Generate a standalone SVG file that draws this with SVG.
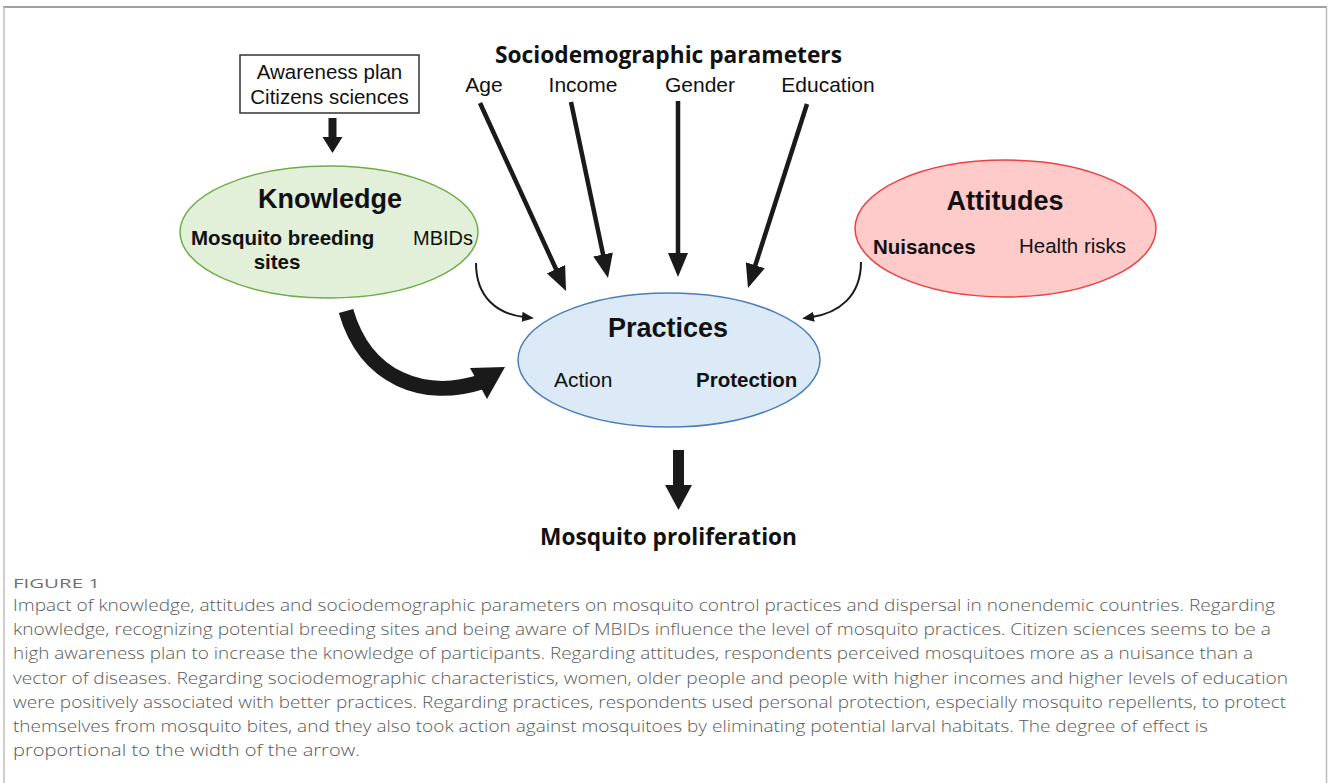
<svg xmlns="http://www.w3.org/2000/svg" width="1330" height="783" viewBox="0 0 1330 783">
<style>
.ar{font-family:"Liberation Sans",Arial,sans-serif;fill:#111}
.b{font-weight:bold}
.ttl{font-family:"Open Sans","Liberation Sans",sans-serif;font-weight:bold;fill:#111}
.cap{font-family:"Open Sans","Liberation Sans",sans-serif;font-weight:300;fill:#5a5a5a;font-size:17px}
.ln{stroke:#1a1a1a;fill:none}
</style>
<defs>
<marker id="hd" markerUnits="userSpaceOnUse" markerWidth="24" markerHeight="20" refX="4" refY="10" orient="auto">
<path d="M0,0 L24,10 L0,20 z" fill="#1a1a1a"/>
</marker>
<marker id="hs" markerUnits="userSpaceOnUse" markerWidth="12" markerHeight="10" refX="2" refY="5" orient="auto">
<path d="M0,0 L12,5 L0,10 z" fill="#1a1a1a"/>
</marker>
</defs>
<rect width="1330" height="783" fill="#ffffff"/>
<g id="frame">
<line x1="3" y1="7" x2="1327" y2="7" stroke="#a0a0a0" stroke-width="2"/>
<line x1="4" y1="7" x2="4" y2="783" stroke="#bdbdbd" stroke-width="1.5"/>
<line x1="1326.5" y1="7" x2="1326.5" y2="783" stroke="#bdbdbd" stroke-width="1.5"/>
</g>
<g id="awareness">
<rect x="240" y="55" width="179" height="58" fill="#fff" stroke="#333" stroke-width="1.5"/>
<text class="ar" x="329.5" y="79" font-size="20.5" text-anchor="middle">Awareness plan</text>
<text class="ar" x="329.5" y="104" font-size="20.5" text-anchor="middle">Citizens sciences</text>
</g>
<g id="knowledge">
<ellipse cx="329" cy="232" rx="149" ry="66" fill="#e2efd9" stroke="#70ad47" stroke-width="1.5"/>
<text class="ar b" x="330" y="208" font-size="27" text-anchor="middle">Knowledge</text>
<text class="ar b" x="191" y="245" font-size="20.5">Mosquito breeding</text>
<text class="ar b" x="277" y="269" font-size="20.5" text-anchor="middle">sites</text>
<text class="ar" x="413" y="245" font-size="20">MBIDs</text>
</g>
<g id="sociodemographic">
<text class="ttl" x="668.5" y="63" font-size="23" text-anchor="middle" textLength="347" lengthAdjust="spacingAndGlyphs">Sociodemographic parameters</text>
<text class="ar" x="484" y="92" font-size="21" text-anchor="middle">Age</text>
<text class="ar" x="583" y="92" font-size="21" text-anchor="middle">Income</text>
<text class="ar" x="700" y="92" font-size="21" text-anchor="middle">Gender</text>
<text class="ar" x="828" y="92" font-size="21" text-anchor="middle">Education</text>
</g>
<g id="attitudes">
<ellipse cx="1005.5" cy="228.5" rx="150.5" ry="68.5" fill="#ffcaca" stroke="#f04040" stroke-width="1.5"/>
<text class="ar b" x="1005" y="210" font-size="27" text-anchor="middle">Attitudes</text>
<text class="ar b" x="873" y="254" font-size="20.5">Nuisances</text>
<text class="ar" x="1019" y="253" font-size="20.5">Health risks</text>
</g>
<g id="practices">
<ellipse cx="669" cy="360" rx="151" ry="67" fill="#dce9f6" stroke="#4a7ebb" stroke-width="1.5"/>
<text class="ar b" x="668" y="337" font-size="27" text-anchor="middle">Practices</text>
<text class="ar" x="554" y="387" font-size="21">Action</text>
<text class="ar b" x="696" y="387" font-size="20.5">Protection</text>
</g>
<g id="proliferation">
<text class="ttl" x="668.5" y="545" font-size="23" text-anchor="middle" textLength="257" lengthAdjust="spacingAndGlyphs">Mosquito proliferation</text>
</g>
<g id="connectors">
<rect x="328.5" y="118" width="8" height="20" fill="#1a1a1a"/>
<polygon points="322.5,137 342.5,137 332.5,153" fill="#1a1a1a"/>
<line class="ln" x1="480" y1="103" x2="557.7" y2="272.8" stroke-width="4.5" marker-end="url(#hd)"/>
<line class="ln" x1="571" y1="102" x2="603.9" y2="258.4" stroke-width="4.5" marker-end="url(#hd)"/>
<line class="ln" x1="678" y1="101" x2="678" y2="257" stroke-width="4.5" marker-end="url(#hd)"/>
<line class="ln" x1="807" y1="104" x2="754.1" y2="269" stroke-width="4.5" marker-end="url(#hd)"/>
<path class="ln" d="M476,263 C476,298 498,314 524,317" stroke-width="2" marker-end="url(#hs)"/>
<path class="ln" d="M861,262 C861,297 838,313 812,317" stroke-width="2" marker-end="url(#hs)"/>
<path class="ln" d="M346,311 C366,380 425,400 481,382" stroke-width="15"/>
<polygon points="470,368 505,367 487,399" fill="#1a1a1a"/>
<rect x="673" y="450" width="11" height="36" fill="#1a1a1a"/>
<polygon points="665,485 692,485 678.5,510" fill="#1a1a1a"/>
</g>
<g id="caption">
<text class="cap" x="13" y="588" textLength="87" lengthAdjust="spacingAndGlyphs" style="font-size:13.5px;font-weight:400;fill:#707070">FIGURE 1</text>
<text class="cap" x="13" y="611" textLength="1262" lengthAdjust="spacingAndGlyphs">Impact of knowledge, attitudes and sociodemographic parameters on mosquito control practices and dispersal in nonendemic countries. Regarding</text>
<text class="cap" x="13" y="635" textLength="1258" lengthAdjust="spacingAndGlyphs">knowledge, recognizing potential breeding sites and being aware of MBIDs influence the level of mosquito practices. Citizen sciences seems to be a</text>
<text class="cap" x="13" y="659" textLength="1240" lengthAdjust="spacingAndGlyphs">high awareness plan to increase the knowledge of participants. Regarding attitudes, respondents perceived mosquitoes more as a nuisance than a</text>
<text class="cap" x="13" y="684" textLength="1275" lengthAdjust="spacingAndGlyphs">vector of diseases. Regarding sociodemographic characteristics, women, older people and people with higher incomes and higher levels of education</text>
<text class="cap" x="13" y="708" textLength="1273" lengthAdjust="spacingAndGlyphs">were positively associated with better practices. Regarding practices, respondents used personal protection, especially mosquito repellents, to protect</text>
<text class="cap" x="13" y="732" textLength="1195" lengthAdjust="spacingAndGlyphs">themselves from mosquito bites, and they also took action against mosquitoes by eliminating potential larval habitats. The degree of effect is</text>
<text class="cap" x="13" y="756" textLength="347" lengthAdjust="spacingAndGlyphs">proportional to the width of the arrow.</text>
</g>
</svg>
